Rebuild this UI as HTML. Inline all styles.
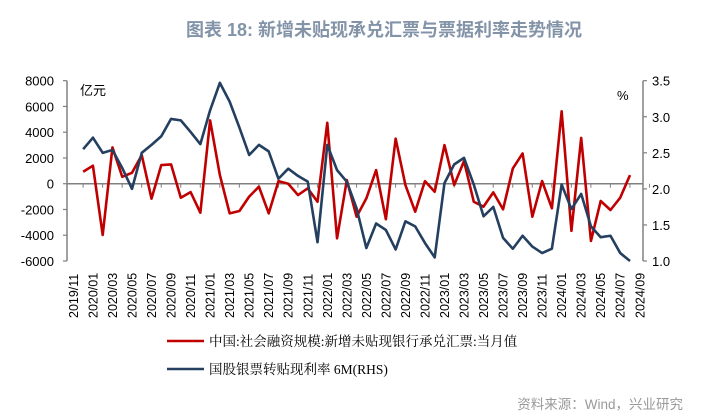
<!DOCTYPE html>
<html><head><meta charset="utf-8"><style>
body{margin:0;background:#fff;}
svg{display:block;font-family:"Liberation Sans","Noto Sans CJK SC",sans-serif;}
</style></head><body>
<svg id="chart" width="708" height="417" viewBox="0 0 708 417">
<text x="384" y="36" text-anchor="middle" font-size="18" font-weight="bold" fill="#8393a8" font-family="'Liberation Sans','Noto Sans CJK SC',sans-serif">图表 18: 新增未贴现承兑汇票与票据利率走势情况</text>
<g id="axes"></g>
<g id="series"></g>
<g>
<line x1="167" y1="341" x2="204" y2="341" stroke="#c00000" stroke-width="2.5"/>
<text x="209" y="346" font-size="13.5" fill="#000" font-family="'Liberation Serif','Noto Serif CJK SC',serif">中国:社会融资规模:新增未贴现银行承兑汇票:当月值</text>
<line x1="167" y1="369" x2="204" y2="369" stroke="#243f60" stroke-width="2.5"/>
<text x="209" y="374" font-size="13.5" fill="#000" font-family="'Liberation Serif','Noto Serif CJK SC',serif">国股银票转贴现利率 6M(RHS)</text>
</g>
<text x="683" y="409" text-anchor="end" font-size="13.5" fill="#999">资料来源：Wind，兴业研究</text>
</svg>
<script>
const months = [];
for (let y = 2019, m = 11; !(y === 2024 && m === 10); ) { months.push(y + '/' + String(m).padStart(2, '0')); m++; if (m > 12) { m = 1; y++; } }
const dataStart = 1; // first observation = 2019/12
const leftTicks = [8000, 6000, 4000, 2000, 0, -2000, -4000, -6000];
const rightTicks = [3.5, 3.0, 2.5, 2.0, 1.5, 1.0];
const billsValues = [930,1400,-3980,2820,540,850,2220,-1160,1450,1500,-1090,-650,-2250,4920,670,-2300,-2120,-1000,-230,-2300,200,0,-880,-360,-1400,4730,-4240,280,-2560,-1140,1060,-2760,3500,-100,-2170,200,-620,3000,-100,1760,-1400,-1780,-670,-1990,1190,2350,-2560,210,-1910,5620,-3660,3560,-4440,-1340,-2040,-1080,670];
const rateValues = [2.55,2.71,2.50,2.54,2.29,2.00,2.50,2.61,2.73,2.97,2.95,2.79,2.62,3.09,3.47,3.21,2.85,2.47,2.61,2.52,2.14,2.28,2.18,2.10,1.26,2.61,2.26,2.10,1.73,1.18,1.52,1.43,1.16,1.55,1.48,1.25,1.05,2.08,2.34,2.43,2.06,1.62,1.75,1.32,1.17,1.35,1.20,1.11,1.17,2.06,1.72,1.93,1.48,1.33,1.35,1.11,1.00];

const NS = 'http://www.w3.org/2000/svg';
const xL = 67, xR = 643, yTop = 80.7, yBot = 261;
const x = i => 73.4 + i * 9.765;
const yL = v => yTop + (8000 - v) / 14000 * (yBot - yTop);
const yR = v => yTop + (3.5 - v) / 2.5 * (yBot - yTop);
const axes = document.getElementById('axes');
const series = document.getElementById('series');
function mk(tag, attrs, parent) { const e = document.createElementNS(NS, tag); for (const k in attrs) e.setAttribute(k, attrs[k]); parent.appendChild(e); return e; }

const ax = mk('g', {}, axes);


mk('line', {x1: xL, y1: yTop, x2: xL, y2: yBot, stroke: '#808080', 'stroke-width': 1.5}, ax);
mk('line', {x1: xR, y1: yTop, x2: xR, y2: yBot, stroke: '#808080', 'stroke-width': 1.5}, ax);
mk('line', {x1: xL, y1: yL(0), x2: xR, y2: yL(0), stroke: '#808080', 'stroke-width': 1.5}, ax);
leftTicks.forEach(v => {
  mk('line', {x1: xL - 4, y1: yL(v), x2: xL, y2: yL(v), stroke: '#808080', 'stroke-width': 1.2}, ax);
  const t = mk('text', {x: 54, y: yL(v) + 5, 'text-anchor': 'end', 'font-size': 13, fill: '#000'}, ax);
  
  
  t.textContent = v;
});
rightTicks.forEach(v => {
  mk('line', {x1: xR, y1: yR(v), x2: xR + 4, y2: yR(v), stroke: '#808080', 'stroke-width': 1.2}, ax);
  const t = mk('text', {x: 652, y: yR(v) + 5, 'font-size': 13, fill: '#000'}, ax);
  
  
  t.textContent = v.toFixed(1);
});
months.forEach((m, i) => {
  if (i % 2 !== 0) return;
  mk('line', {x1: x(i) + 9.7, y1: yL(0), x2: x(i) + 9.7, y2: yL(0) + 4, stroke: '#808080', 'stroke-width': 1}, ax);
  const t = mk('text', {transform: `translate(${x(i) + 4.5},${318}) rotate(-90)`, 'font-size': 12.5, fill: '#000'}, ax);
  
  
  t.textContent = m;
});
const u1 = mk('text', {x: 80, y: 95, 'font-size': 13, fill: '#000'}, ax);


u1.textContent = '亿元';
const u2 = mk('text', {x: 617, y: 100, 'font-size': 13, fill: '#000'}, ax);


u2.textContent = '%';

const pb = mk('polyline', {points: billsValues.map((v, k) => x(k + dataStart) + ',' + yL(v)).join(' '), fill: 'none', stroke: '#c00000', 'stroke-width': 2.6, 'stroke-linejoin': 'round'}, series);


const pr = mk('polyline', {points: rateValues.map((v, k) => x(k + dataStart) + ',' + yR(v)).join(' '), fill: 'none', stroke: '#243f60', 'stroke-width': 2.6, 'stroke-linejoin': 'round'}, series);


</script>
</body></html>
